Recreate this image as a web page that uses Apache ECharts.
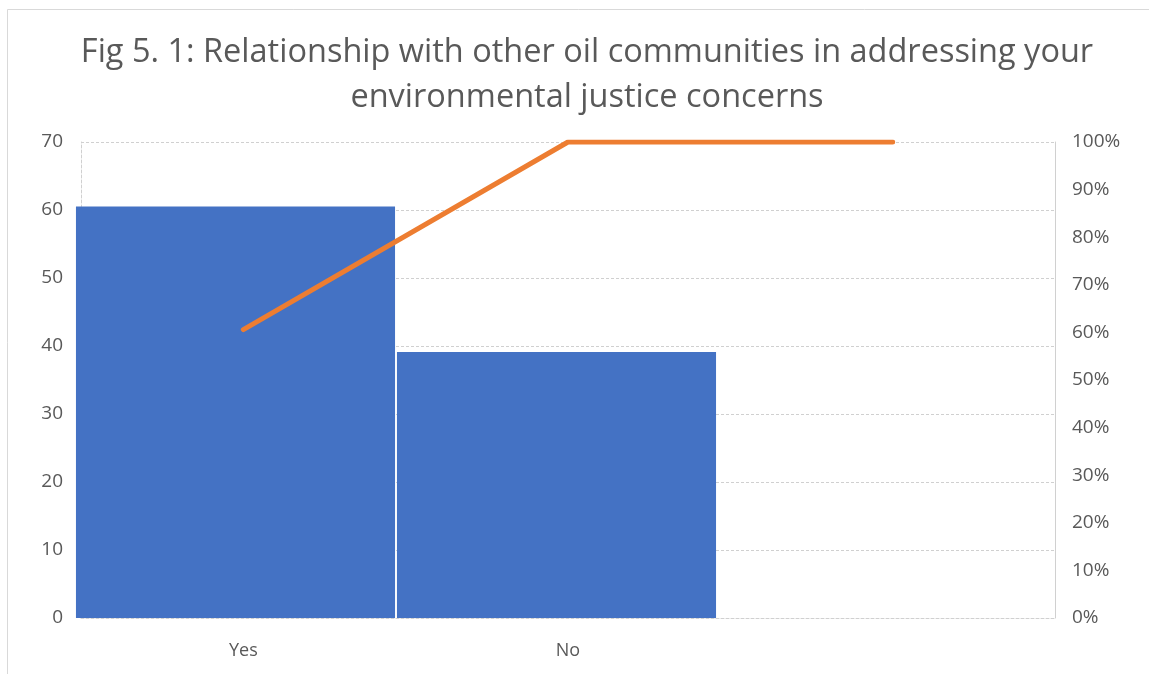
<!DOCTYPE html>
<html>
<head>
<meta charset="utf-8">
<script src="https://cdn.jsdelivr.net/npm/echarts@6/dist/echarts.min.js"></script>
<style>
  html, body { margin: 0; padding: 0; background: #fff; }
  #chart { width: 1149px; height: 674px; }
</style>
</head>
<body>
<div id="chart"></div>
<script>
// Responses and their cumulative share (Pareto layout)
const categories = ['Yes', 'No', ''];
const counts = [60.5, 39.1, null];
const cumulativePct = [60.6, 100, 100];
const countTicks = [0, 10, 20, 30, 40, 50, 60, 70];
const pctTicks = [0, 10, 20, 30, 40, 50, 60, 70, 80, 90, 100];

const textColor = '#595959';
const font = '"Open Sans", "Noto Sans", sans-serif';
const gridColor = '#d0d0d0';

const chart = echarts.init(document.getElementById('chart'), null, { renderer: 'canvas' });

chart.setOption({
  animation: false,
  backgroundColor: '#ffffff',
  title: {
    text: 'Fig 5. 1: Relationship with other oil communities in addressing your\nenvironmental justice concerns',
    left: 582,
    textAlign: 'center',
    top: 25,
    textStyle: {
      color: textColor,
      fontFamily: font,
      fontWeight: 'normal',
      fontSize: 32.5,
      lineHeight: 45
    }
  },
  // outer frame of the figure
  graphic: [{
    type: 'rect',
    shape: { x: 7.5, y: 9.5, width: 1200, height: 700 },
    style: { fill: 'none', stroke: '#d9d9d9', lineWidth: 1 },
    silent: true
  }],
  grid: [
    { left: 81, right: 94, top: 142, bottom: 56, containLabel: false },
    { left: 75, right: 111, top: 142, bottom: 56, containLabel: false }
  ],
  xAxis: [
    {
      type: 'category', gridIndex: 0, data: categories, boundaryGap: true,
      axisLine: { show: true, lineStyle: { color: gridColor, type: [3, 2] } },
      axisTick: { show: false },
      axisLabel: { color: textColor, fontFamily: font, fontSize: 18, margin: 24 }
    },
    {
      type: 'category', gridIndex: 1, data: categories, boundaryGap: true,
      show: false
    }
  ],
  yAxis: [
    {
      type: 'value', gridIndex: 0, min: 0, max: 70, interval: 10,
      axisLine: { show: true, lineStyle: { color: gridColor, type: [3, 2] } },
      axisTick: { show: false },
      splitLine: { show: true, lineStyle: { color: gridColor, type: [3, 2] } },
      axisLabel: {
        color: textColor, fontFamily: font, fontSize: 19, margin: 18,
        formatter: v => countTicks.includes(v) ? String(v) : ''
      }
    },
    {
      type: 'value', gridIndex: 0, min: 0, max: 100, interval: 10, position: 'right',
      axisLine: { show: true, lineStyle: { color: gridColor } },
      axisTick: { show: false },
      splitLine: { show: false },
      axisLabel: {
        color: textColor, fontFamily: font, fontSize: 19, margin: 17,
        formatter: v => pctTicks.includes(v) ? v + '%' : ''
      }
    },
    {
      type: 'value', gridIndex: 1, min: 0, max: 70, interval: 10, show: false
    }
  ],
  series: [
    {
      name: 'Count',
      type: 'bar',
      xAxisIndex: 1,
      yAxisIndex: 2,
      data: counts,
      barCategoryGap: '0.6%',
      itemStyle: { color: '#4472C4' },
      z: 2
    },
    {
      name: 'Cumulative %',
      type: 'line',
      xAxisIndex: 0,
      yAxisIndex: 1,
      data: cumulativePct,
      showSymbol: false,
      lineStyle: { color: '#ED7D31', width: 5, cap: 'round' },
      itemStyle: { color: '#ED7D31' },
      z: 3
    }
  ]
});
</script>
</body>
</html>
